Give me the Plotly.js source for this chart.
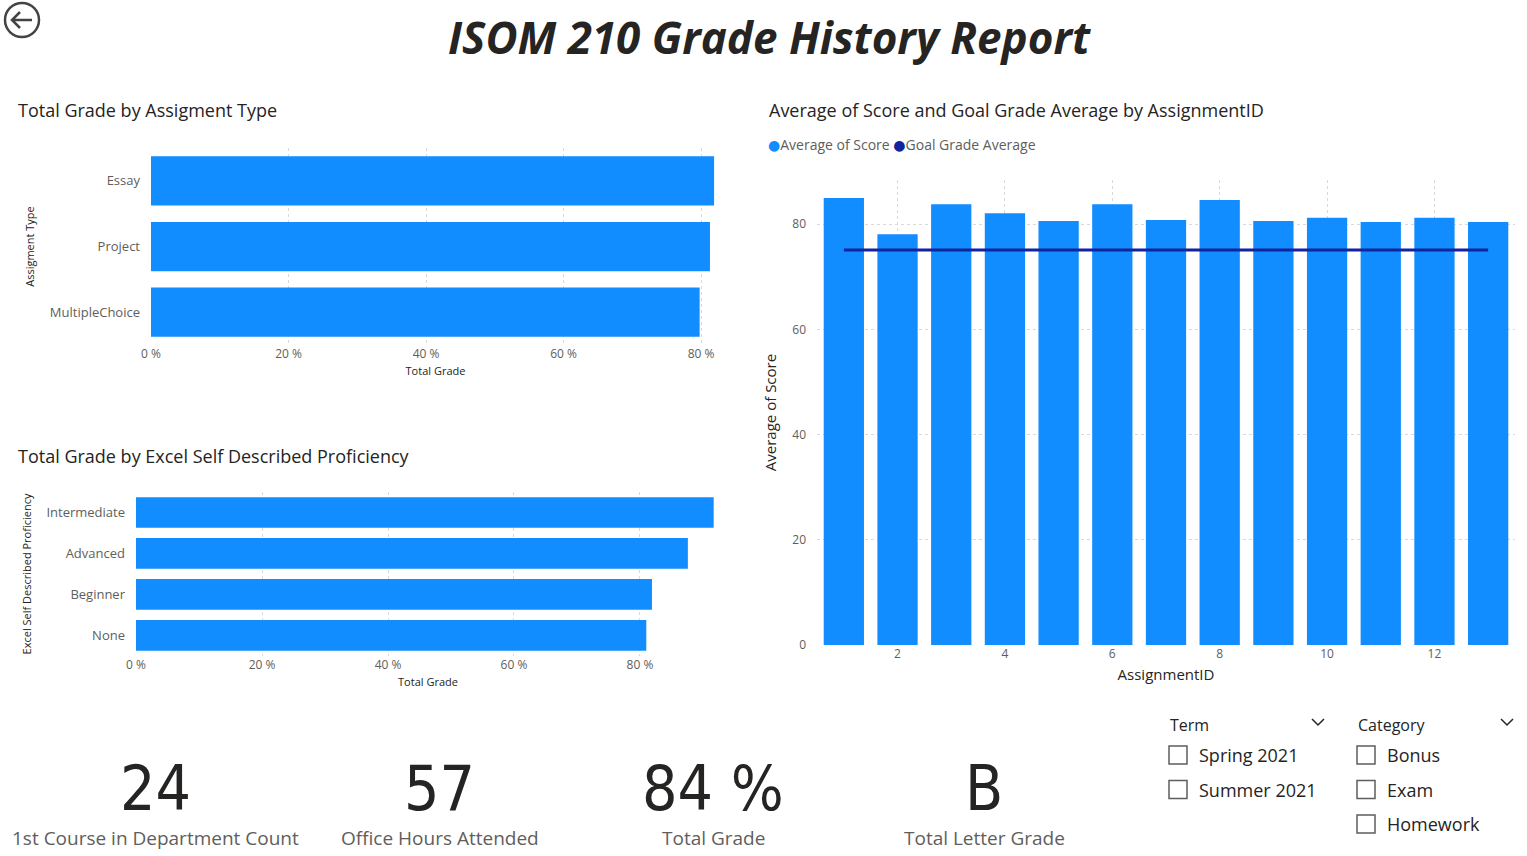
<!DOCTYPE html>
<html>
<head>
<meta charset="utf-8">
<script src="https://cdn.plot.ly/plotly-3.0.1.min.js"></script>
<style>html,body{margin:0;padding:0;background:#fff}</style>
</head>
<body>
<div id="chart" style="width:1527px;height:856px"></div>
<script>
var typeCats = ["MultipleChoice", "Project", "Essay"]
var typeGrades = [0.798, 0.813, 0.819]

var profCats = ["None", "Beginner", "Advanced", "Intermediate"]
var profGrades = [0.810, 0.819, 0.876, 0.917]

var assignmentIds = [1, 2, 3, 4, 5, 6, 7, 8, 9, 10, 11, 12, 13]
var avgScore = [85.0, 78.1, 83.8, 82.1, 80.6, 83.8, 80.8, 84.6, 80.6, 81.2, 80.4, 81.2, 80.4]
var goalAvg = [75.1, 75.1, 75.1, 75.1, 75.1, 75.1, 75.1, 75.1, 75.1, 75.1, 75.1, 75.1, 75.1]

var kpiValues = ["24", "57", "84 %", "B"]
var kpiLabels = ["1st Course in Department Count", "Office Hours Attended", "Total Grade", "Total Letter Grade"]
var termItems = ["Spring 2021", "Summer 2021"]
var categoryItems = ["Bonus", "Exam", "Homework"]

var W = 1527, H = 856
function px(x) { return x / W }
function py(y) { return 1 - y / H }

var blue = "#118DFF", navy = "#12239E", tick = "#605E5C", font = "Open Sans, DejaVu Sans, sans-serif"
var pctTicks = [0, 0.2, 0.4, 0.6, 0.8]
var pctText = ["0 %", "20 %", "40 %", "60 %", "80 %"]

var traces = [
  {type: "bar", orientation: "h", y: typeCats, x: typeGrades, marker: {color: blue}, xaxis: "x", yaxis: "y", hoverinfo: "x+y"},
  {type: "bar", orientation: "h", y: profCats, x: profGrades, marker: {color: blue}, xaxis: "x2", yaxis: "y2"},
  {type: "bar", x: assignmentIds, y: avgScore, marker: {color: blue}, xaxis: "x3", yaxis: "y3", name: "Average of Score"},
  {type: "scatter", mode: "lines", x: assignmentIds, y: goalAvg, line: {color: navy, width: 3}, xaxis: "x3", yaxis: "y3", name: "Goal Grade Average"}
]

var grid = {showgrid: true, gridcolor: "#d9d9d9", griddash: "dot", zeroline: false}
var tf = {family: font, size: 12, color: tick}

var layout = {
  width: W, height: H, margin: {l: 0, r: 0, t: 0, b: 0},
  paper_bgcolor: "#fff", plot_bgcolor: "#fff", showlegend: false, bargap: 0.25,
  font: {family: font},
  xaxis: Object.assign({domain: [px(151), px(720)], range: [0, 0.8276], tickvals: pctTicks, ticktext: pctText, tickfont: tf, anchor: "y",
    title: {text: "Total Grade", font: {size: 11, color: "#252423"}, standoff: 6}}, grid),
  yaxis: {domain: [py(345), py(148)], tickfont: {family: font, size: 13, color: tick}, anchor: "x", ticklabelstandoff: 10, showgrid: false,
    title: {text: "Assigment Type", font: {size: 11, color: "#252423"}, standoff: 12}},
  xaxis2: Object.assign({domain: [px(136), px(720)], range: [0, 0.927], tickvals: pctTicks, ticktext: pctText, tickfont: tf, anchor: "y2",
    title: {text: "Total Grade", font: {size: 11, color: "#252423"}, standoff: 6}}, grid),
  yaxis2: {domain: [py(656), py(492)], tickfont: {family: font, size: 13, color: tick}, anchor: "x2", ticklabelstandoff: 10, showgrid: false,
    title: {text: "Excel Self Described Proficiency", font: {size: 11, color: "#252423"}, standoff: 12}},
  xaxis3: Object.assign({domain: [px(817), px(1515)], range: [0.5, 13.5], dtick: 2, tick0: 0, tickfont: tf, anchor: "y3",
    title: {text: "AssignmentID", font: {size: 15, color: "#252423"}, standoff: 8}}, grid),
  yaxis3: Object.assign({domain: [py(645), py(180)], range: [0, 88.4], dtick: 20, tickfont: tf, anchor: "x3", ticklabelstandoff: 10,
    title: {text: "Average of Score", font: {size: 15, color: "#252423"}, standoff: 12}}, grid),
  annotations: [], shapes: []
}

function text(x, y, t, size, color, anchor, extra) {
  layout.annotations.push(Object.assign({xref: "paper", yref: "paper", x: px(x), y: py(y), text: t, showarrow: false,
    xanchor: anchor || "left", yanchor: "middle", font: {family: font, size: size, color: color}}, extra || {}))
}

text(770, 37, "<b><i>ISOM 210 Grade History Report</i></b>", 44, "#252423", "center")
text(16, 110, "Total Grade by Assigment Type", 18, "#252423")
text(16, 456, "Total Grade by Excel Self Described Proficiency", 18, "#252423")
text(767, 110, "Average of Score and Goal Grade Average by AssignmentID", 18, "#252423")
text(766, 145, "<span style='color:" + blue + "'>●</span>Average of Score <span style='color:" + navy + "'>●</span>Goal Grade Average", 14, tick)

var kpiX = [155, 440, 713, 984]
kpiValues.forEach(function (v, i) {
  text(kpiX[i], 788, v, 62, "#252423", "center", {font: {family: "DejaVu Sans Condensed, DejaVu Sans", size: 62, color: "#252423"}})
  text(kpiX[i], 838, kpiLabels[i], 19, tick, "center")
})

// slicers
text(1168, 725, "Term", 16, "#252423")
text(1356, 725, "Category", 16, "#252423")
function chevron(x, y) {
  layout.shapes.push({type: "path", xref: "paper", yref: "paper", path: "M" + px(x - 6) + "," + py(y - 3) + " L" + px(x) + "," + py(y + 3) + " L" + px(x + 6) + "," + py(y - 3),
    line: {color: "#252423", width: 1.5}})
}
chevron(1318, 722); chevron(1507, 722)
function box(x, y) {
  layout.shapes.push({type: "rect", xref: "paper", yref: "paper", x0: px(x), x1: px(x + 18), y0: py(y + 9), y1: py(y - 9), line: {color: "#605E5C", width: 1.5}})
}
termItems.forEach(function (t, i) { var y = 755 + i * 34.5; box(1169, y); text(1197, y, t, 18, "#252423") })
categoryItems.forEach(function (t, i) { var y = 755 + i * 34.5; box(1357, y); text(1385, y, t, 18, "#252423") })

// back arrow
layout.shapes.push({type: "circle", xref: "paper", yref: "paper", x0: px(5), x1: px(39), y0: py(37), y1: py(3), line: {color: "#444", width: 2.5}})
layout.shapes.push({type: "path", xref: "paper", yref: "paper", path: "M" + px(32) + "," + py(20) + " L" + px(12) + "," + py(20) + " M" + px(20) + "," + py(12) + " L" + px(12) + "," + py(20) + " L" + px(20) + "," + py(28),
  line: {color: "#444", width: 2.5}})

Plotly.newPlot("chart", traces, layout, {displayModeBar: false, staticPlot: true})
</script>
</body>
</html>
